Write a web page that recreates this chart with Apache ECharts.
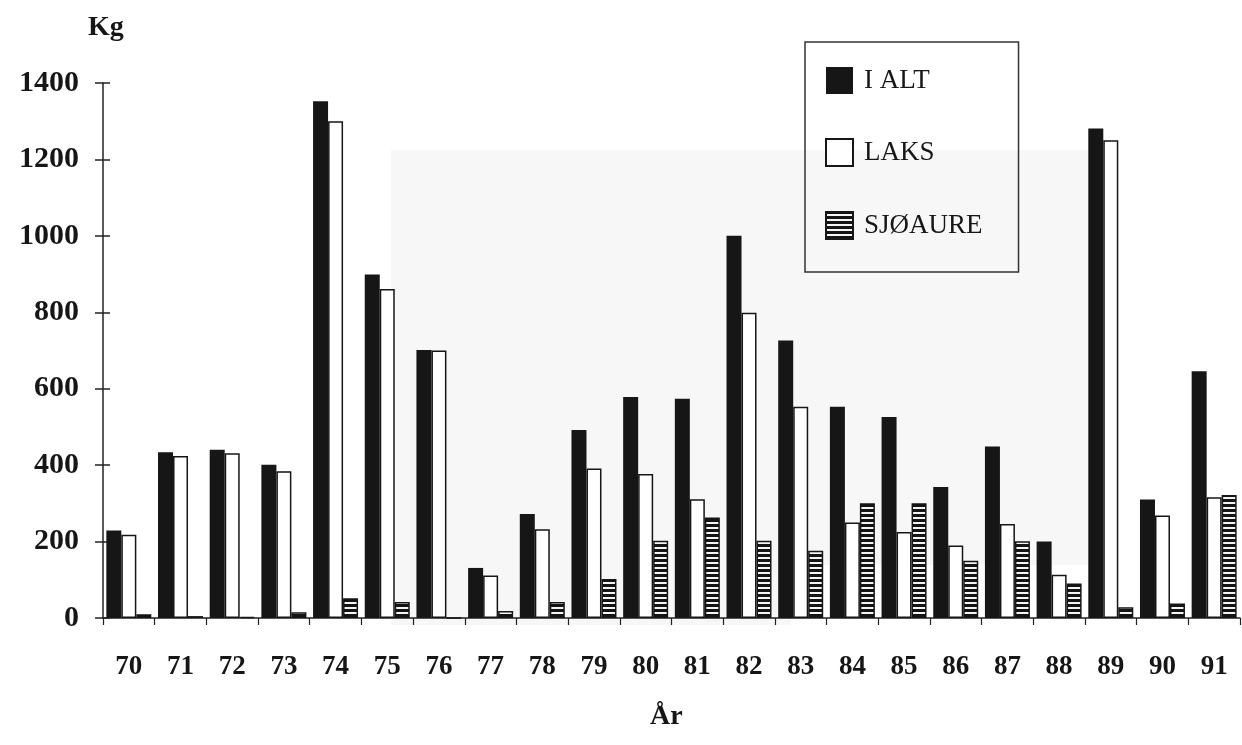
<!DOCTYPE html>
<html>
<head>
<meta charset="utf-8">
<script src="https://cdn.jsdelivr.net/npm/echarts@6/dist/echarts.min.js"></script>
<style>
  html, body { margin: 0; padding: 0; background: #ffffff; }
  #chart { width: 1242px; height: 745px; }
</style>
</head>
<body>
<div id="chart"></div>
<script>
// Fangst per år (kg), 1970–1991
const years = ['70','71','72','73','74','75','76','77','78','79','80','81','82','83','84','85','86','87','88','89','90','91'];
const iAlt = [229, 434, 440, 401, 1352, 899, 701, 131, 272, 492, 578, 574, 1000, 726, 553, 526, 343, 449, 200, 1281, 310, 646];
const laks = [218, 424, 431, 384, 1300, 861, 700, 111, 232, 391, 377, 311, 799, 553, 250, 225, 190, 246, 113, 1250, 268, 316];
const sjoaure = [10, 5, 3, 15, 52, 42, 0, 18, 42, 102, 202, 263, 202, 176, 300, 300, 150, 201, 90, 28, 38, 322];
const yTicks = { min: 0, max: 1400, interval: 200 };

// Horizontal hatch fill for the sea trout bars
function hatch() {
  const c = document.createElement('canvas');
  c.width = 8; c.height = 5;
  const g = c.getContext('2d');
  g.fillStyle = '#141414';
  g.fillRect(0, 0, 8, 5);
  g.fillStyle = '#f4f4f4';
  g.fillRect(0, 2, 8, 2);
  return c;
}

const serif = '"Liberation Serif", "DejaVu Serif", serif';
const ink = '#161616';

const chart = echarts.init(document.getElementById('chart'), null, { renderer: 'canvas' });
chart.setOption({
  backgroundColor: '#ffffff',
  animation: false,
  graphic: [
    { type: 'rect', silent: true, z: -10, shape: { x: 391, y: 150, width: 697, height: 415 }, style: { fill: '#f7f7f7' } },
    { type: 'rect', silent: true, z: -10, shape: { x: 391, y: 565, width: 400, height: 60 }, style: { fill: '#f7f7f7' } },
    { type: 'text', left: 88, top: 14, style: { text: 'Kg', font: 'bold 28px ' + serif, fill: ink } },
    { type: 'text', left: 650, top: 703, style: { text: 'År', font: 'bold 28px ' + serif, fill: ink } }
  ],
  grid: { left: 103, right: 2, top: 83, bottom: 127, containLabel: false },
  legend: {
    orient: 'vertical',
    left: 805, top: 42,
    padding: [25, 36, 32, 20],
    icon: 'rect',
    itemWidth: 27, itemHeight: 27, itemGap: 44,
    borderColor: '#333', borderWidth: 1.5,
    backgroundColor: 'rgba(255,255,255,0)',
    textStyle: { fontFamily: serif, fontSize: 27, color: ink, padding: [0, 0, 0, 6] },
    data: ['I ALT', 'LAKS', 'SJØAURE']
  },
  xAxis: {
    type: 'category',
    data: years,
    axisLine: { lineStyle: { color: '#222', width: 1.5 } },
    axisTick: { show: true, length: 7, lineStyle: { color: '#222', width: 1.2 } },
    axisLabel: { margin: 36, fontFamily: serif, fontWeight: 'bold', fontSize: 27, color: ink }
  },
  yAxis: [
    {
      type: 'value', min: yTicks.min, max: yTicks.max, interval: yTicks.interval,
      splitLine: { show: false },
      axisLine: { show: true, lineStyle: { color: '#222', width: 1.5 } },
      axisTick: { show: true, length: 8, lineStyle: { color: '#222', width: 1.5 } },
      axisLabel: { margin: 24, fontFamily: serif, fontWeight: 'bold', fontSize: 30, color: ink,
                   formatter: (v) => String(v) }
    },
    {
      type: 'value', min: yTicks.min, max: yTicks.max, interval: yTicks.interval,
      position: 'left',
      splitLine: { show: false },
      axisLine: { show: false },
      axisTick: { show: true, inside: true, length: 7, lineStyle: { color: '#222', width: 1.5 } },
      axisLabel: { show: false }
    }
  ],
  series: [
    {
      name: 'I ALT', type: 'bar', data: iAlt,
      barWidth: 15, barGap: '0%',
      itemStyle: { color: ink }
    },
    {
      name: 'LAKS', type: 'bar', data: laks,
      barWidth: 15, barGap: '0%',
      itemStyle: { color: '#ffffff', borderColor: ink, borderWidth: 1.5 }
    },
    {
      name: 'SJØAURE', type: 'bar', data: sjoaure,
      barWidth: 15, barGap: '0%',
      itemStyle: { color: { image: hatch(), repeat: 'repeat' }, borderColor: ink, borderWidth: 1.5 }
    }
  ]
});
</script>
</body>
</html>
